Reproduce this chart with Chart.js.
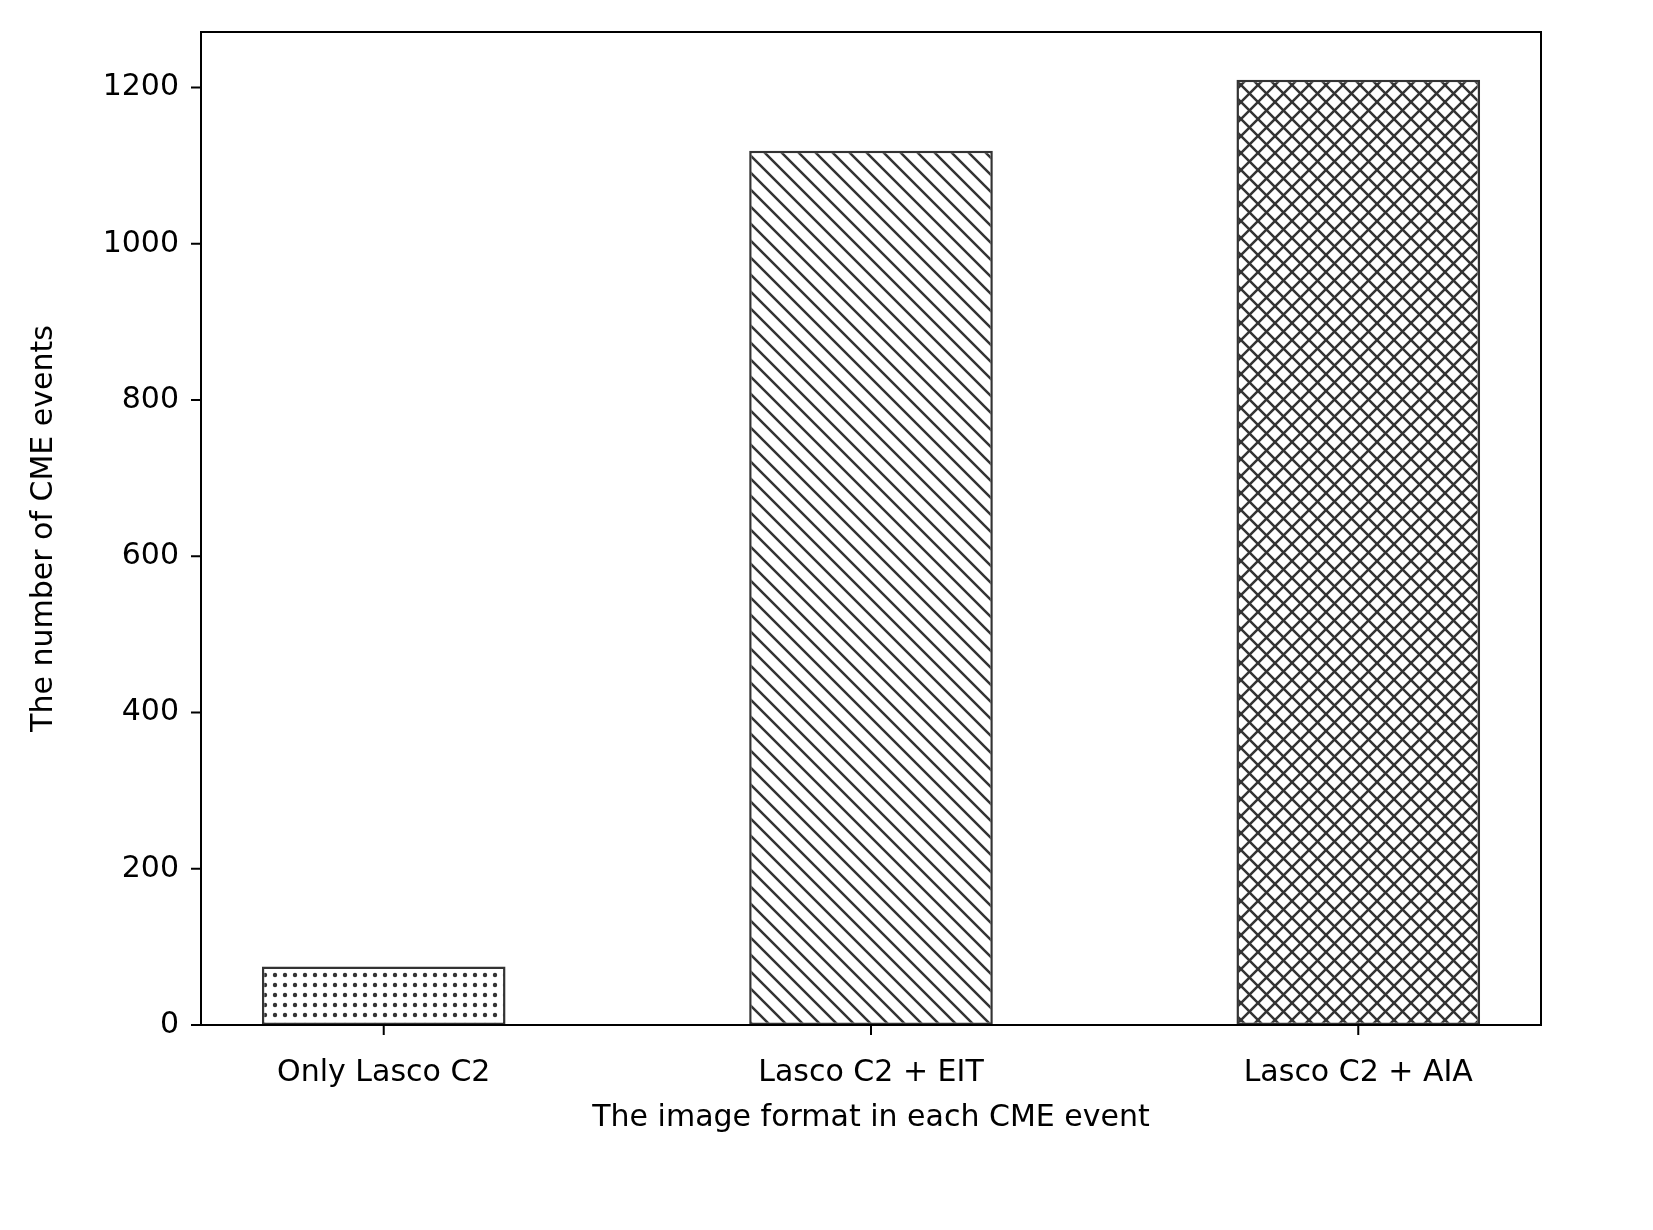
<!DOCTYPE html>
<html><head>
<script src="https://cdn.jsdelivr.net/npm/chart.js@4"></script>
<style>body{margin:0;background:#fff}#wrap{width:1653px;height:1230px}</style>
</head><body>
<div id="wrap"><canvas id="c" width="1653" height="1230"></canvas></div>
<script>
var categories = ['Only Lasco C2', 'Lasco C2 + EIT', 'Lasco C2 + AIA'];
var counts = [75, 1119, 1210];
var yTicks = [0, 200, 400, 600, 800, 1000, 1200];

function hatch(kind) {
	var s = kind == 'dots' ? 10 : 17;
	var p = document.createElement('canvas');
	p.width = s; p.height = s;
	var g = p.getContext('2d');
	g.fillStyle = '#fff'; g.fillRect(0, 0, s, s);
	g.strokeStyle = '#333'; g.fillStyle = '#333'; g.lineWidth = 2.5;
	if (kind == 'dots') {
		g.beginPath(); g.arc(s/2, s/2, 2.2, 0, Math.PI*2); g.fill();
	} else {
		g.beginPath(); g.moveTo(-2,-2); g.lineTo(s+2,s+2); g.moveTo(-2,s-2); g.lineTo(2,s+2); g.moveTo(s-2,-2); g.lineTo(s+2,2); g.stroke();
		if (kind == 'cross') {
			g.beginPath(); g.moveTo(s+2,-2); g.lineTo(-2,s+2); g.moveTo(2,-2); g.lineTo(-2,2); g.moveTo(s+2,s-2); g.lineTo(s-2,s+2); g.stroke();
		}
	}
	return document.getElementById('c').getContext('2d').createPattern(p, 'repeat');
}

var font = {family: 'DejaVu Sans', size: 30};
new Chart(document.getElementById('c'), {
	type: 'bar',
	data: {
		datasets: [{
			data: counts.map(function(v, i){ return {x: i, y: v}; }),
			backgroundColor: [hatch('dots'), hatch('back'), hatch('cross')],
			borderColor: '#333', borderWidth: 2.5, borderSkipped: false,
			categoryPercentage: 1, barPercentage: 0.5
		}]
	},
	options: {
		responsive: false, animation: false,
		layout: {padding: {top: 25, right: 112, left: 22, bottom: 90}},
		plugins: {legend: {display: false}, tooltip: {enabled: false}},
		scales: {
			x: {
				type: 'linear', min: -0.375, max: 2.375, offset: false,
				afterBuildTicks: function(a){ a.ticks = [0,1,2].map(function(v){ return {value: v}; }); },
				afterFit: function(a){ a.height = 115; },
				grid: {display: false},
				border: {color: '#000', width: 2},
				ticks: {font: font, color: '#000', maxRotation: 0, autoSkip: false, padding: 22,
					callback: function(v){ return categories[v]; }},
				title: {display: true, text: 'The image format in each CME event', font: font, color: '#000', padding: {top: 4}}
			},
			y: {
				min: 0, max: 1271,
				afterBuildTicks: function(a){ a.ticks = yTicks.map(function(v){ return {value: v}; }); },
				afterFit: function(a){ a.width = 179; },
				grid: {display: false},
				border: {color: '#000', width: 2},
				ticks: {font: font, color: '#000', padding: 14, callback: function(v){ return String(v); }},
				title: {display: true, text: 'The number of CME events', font: font, color: '#000'}
			}
		}
	},
	plugins: [{
		id: 'frame',
		afterDraw: function(ch) {
			var a = ch.chartArea, g = ch.ctx;
			g.save(); g.strokeStyle = '#000'; g.lineWidth = 2;
			g.strokeRect(a.left, a.top, a.right - a.left, a.bottom - a.top);
			g.beginPath();
			yTicks.forEach(function(v){ var y = ch.scales.y.getPixelForValue(v); g.moveTo(a.left, y); g.lineTo(a.left - 10, y); });
			[0,1,2].forEach(function(v){ var x = ch.scales.x.getPixelForValue(v); g.moveTo(x, a.bottom); g.lineTo(x, a.bottom + 10); });
			g.stroke(); g.restore();
		}
	}]
});
</script>
</body></html>
